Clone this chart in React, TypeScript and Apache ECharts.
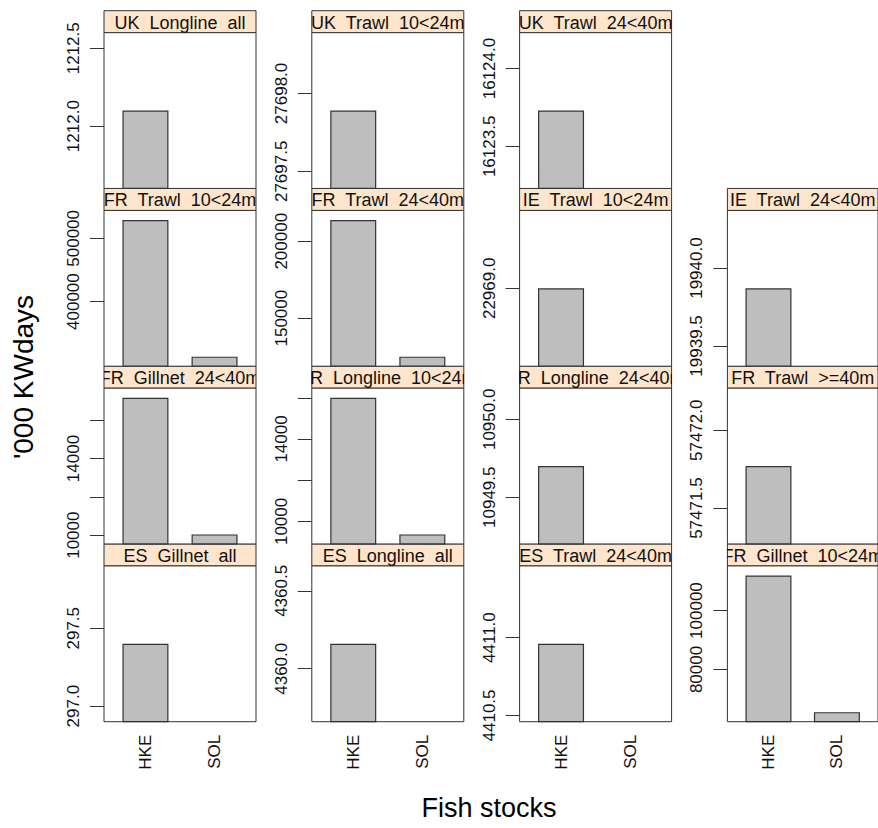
import React, { useEffect, useRef } from 'react';
import * as echarts from 'echarts';

// x categories (fish stocks)
const stocks = ['HKE', 'SOL'];

// fleet panels, in lattice order (bottom-left first, left to right, then upward)
const fleets = [
  'ES_Gillnet_all', 'ES_Longline_all', 'ES_Trawl_24<40m', 'FR_Gillnet_10<24m',
  'FR_Gillnet_24<40m', 'FR_Longline_10<24m', 'FR_Longline_24<40m', 'FR_Trawl_>=40m',
  'FR_Trawl_10<24m', 'FR_Trawl_24<40m', 'IE_Trawl_10<24m', 'IE_Trawl_24<40m',
  'UK_Longline_all', 'UK_Trawl_10<24m', 'UK_Trawl_24<40m',
];

// '000 KWdays per fleet for each stock (null = no value)
const hkeValues = [
  297.4, 4360.16, 4410.96, 111900,
  17170, 16000, 10949.7, 57471.77,
  529000, 213800, 22969.0, 19939.87,
  1212.1, 27697.89, 16123.73,
];
const solValues = [
  null, null, null, 65500,
  10040, 9370, null, null,
  313000, 125000, null, null,
  null, null, null,
];

// y tick marks and tick labels per panel
const yTickMarks = [
  [297.0, 297.5], [4360.0, 4360.5], [4410.5, 4411.0], [80000, 100000],
  [10000, 12000, 14000, 16000], [10000, 12000, 14000, 16000], [10949.5, 10950.0], [57471.5, 57472.0],
  [400000, 500000], [150000, 200000], [22969.0], [19939.5, 19940.0],
  [1212.0, 1212.5], [27697.5, 27698.0], [16123.5, 16124.0],
];
const yTickLabels = [
  ['297.0', '297.5'], ['4360.0', '4360.5'], ['4410.5', '4411.0'], ['80000', '100000'],
  ['10000', '14000'], ['10000', '14000'], ['10949.5', '10950.0'], ['57471.5', '57472.0'],
  ['400000', '500000'], ['150000', '200000'], ['22969.0'], ['19939.5', '19940.0'],
  ['1212.0', '1212.5'], ['27697.5', '27698.0'], ['16123.5', '16124.0'],
];

const xTitle = 'Fish stocks';
const yTitle = "'000 KWdays";

const FONT = '"Liberation Sans", Arial, Helvetica, sans-serif';
const COL_LEFT = 104;
const COL_STEP = 207.8;
const PANEL_W = 152;
const ROW_TOP = 10.7;
const ROW_STEP = 177.75;
const STRIP_H = 22;
const PANEL_H = ROW_STEP - STRIP_H;
const LINE = '#333';

function limits(h: number, s: number | null): [number, number] {
  if (s == null) return [h - 0.5, h + 0.5];
  const lo = Math.min(h, s);
  const hi = Math.max(h, s);
  const d = hi - lo;
  return [lo - 0.07 * d, hi + 0.07 * d];
}

function buildOption() {
  const grids: any[] = [];
  const xAxes: any[] = [];
  const yAxes: any[] = [];
  const series: any[] = [];

  fleets.forEach((fleet, i) => {
    const col = i % 4;
    const row = 3 - Math.floor(i / 4);
    const left = COL_LEFT + col * COL_STEP;
    const top = ROW_TOP + row * ROW_STEP;
    const stripText = fleet.replace(/_/g, '  ');

    // strip
    const sg = grids.length;
    grids.push({
      left, top, width: PANEL_W, height: STRIP_H, show: true,
      backgroundColor: '#ffe5cc', borderColor: LINE, borderWidth: 1,
    });
    xAxes.push({ gridIndex: sg, type: 'value', min: 0, max: 1, show: false });
    yAxes.push({ gridIndex: sg, type: 'value', min: 0, max: 1, show: false });
    series.push({
      type: 'custom', xAxisIndex: sg, yAxisIndex: sg, clip: true, silent: true,
      data: [[0.5, 0.5]],
      renderItem: (params: any) => {
        const cs = params.coordSys;
        return {
          type: 'text',
          x: cs.x + cs.width / 2,
          y: cs.y + cs.height / 2 + 1,
          style: {
            text: stripText, fontSize: 18, fontFamily: FONT, fill: '#111',
            align: 'center', verticalAlign: 'middle',
            textAlign: 'center', textVerticalAlign: 'middle',
          },
        };
      },
    });

    // panel
    const pg = grids.length;
    grids.push({
      left, top: top + STRIP_H, width: PANEL_W, height: PANEL_H, show: true,
      backgroundColor: '#fff', borderColor: LINE, borderWidth: 1,
    });
    const isBottom = row === 3;
    xAxes.push({
      gridIndex: pg, type: 'value', min: 0.4, max: 2.6,
      axisLine: { show: false }, axisTick: { show: false }, splitLine: { show: false },
      axisLabel: {
        show: isBottom, customValues: [1, 2],
        formatter: (v: number) => stocks[Math.round(v) - 1] ?? '',
        rotate: 90, margin: 13, fontSize: 17, fontFamily: FONT, color: '#111',
      },
    });
    const [mn, mx] = limits(hkeValues[i], solValues[i]);
    const labels = yTickLabels[i];
    yAxes.push({
      gridIndex: pg, type: 'value', min: mn, max: mx,
      axisLine: { show: false }, splitLine: { show: false },
      axisTick: { show: true, customValues: yTickMarks[i], length: 14, lineStyle: { color: LINE, width: 1 } },
      axisLabel: {
        customValues: labels.map(Number),
        formatter: (v: number) => {
          const f = labels.find((l) => Math.abs(Number(l) - v) < 1e-6);
          return f ?? '';
        },
        rotate: 90, margin: 22, fontSize: 17, fontFamily: FONT, color: '#111',
      },
    });
    const data: any[] = [[1, hkeValues[i]]];
    if (solValues[i] != null) data.push([2, solValues[i]]);
    series.push({
      type: 'bar', xAxisIndex: pg, yAxisIndex: pg, barWidth: 46, clip: true, silent: true,
      data,
      itemStyle: { color: '#bebebe', borderColor: LINE, borderWidth: 1.2 },
    });
  });

  return {
    animation: false,
    backgroundColor: '#fff',
    grid: grids,
    xAxis: xAxes,
    yAxis: yAxes,
    series,
    graphic: [
      {
        type: 'text', x: 23, y: 377, rotation: Math.PI / 2,
        style: {
          text: yTitle, fontSize: 28, fontFamily: FONT, fill: '#000',
          align: 'center', verticalAlign: 'middle', textAlign: 'center', textVerticalAlign: 'middle',
        },
      },
      {
        type: 'text', x: 489, y: 808,
        style: {
          text: xTitle, fontSize: 27, fontFamily: FONT, fill: '#000',
          align: 'center', verticalAlign: 'middle', textAlign: 'center', textVerticalAlign: 'middle',
        },
      },
    ],
  };
}

export default function App() {
  const ref = useRef<HTMLDivElement>(null);
  useEffect(() => {
    if (!ref.current) return;
    const chart = echarts.init(ref.current, undefined, { renderer: 'svg' });
    chart.setOption(buildOption());
    return () => chart.dispose();
  }, []);
  return (
    <div
      ref={ref}
      style={{ position: 'absolute', left: 0, top: 0, width: 878, height: 828, background: '#fff' }}
    />
  );
}
